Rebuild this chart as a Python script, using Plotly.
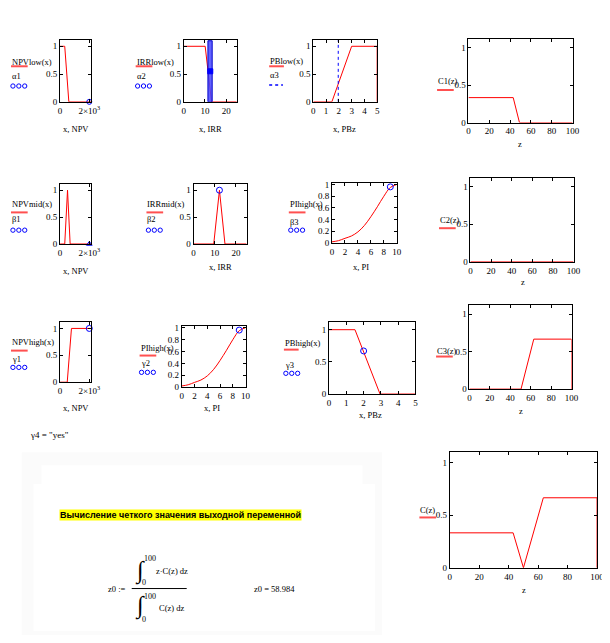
import plotly.graph_objects as go

# the page has an 8px body margin, so the figure sits at (8, 8) and fills the rest
W, H = 602, 627
OFF = 8

# membership function data
npv_low_x = [0, 320, 600, 2150]
npv_low_y = [1, 1, 0, 0]
npv_mid_x = [0, 320, 510, 690, 2150]
npv_mid_y = [0, 0, 1, 0, 0]
npv_high_x = [0, 490, 780, 2150, 2150]
npv_high_y = [0, 0, 1, 1, 0]

irr_low_x = [0, 10.1, 13.1, 25]
irr_low_y = [1, 1, 0, 0]
irr_mid_x = [0, 9.5, 12.2, 14.8, 25]
irr_mid_y = [0, 0, 1, 0, 0]
irr_band_x = [11.4, 13.4, 13.4, 11.4, 11.4]
irr_band_y = [0, 0, 1.1, 1.1, 0]

pb_low_x = [0, 1.45, 3, 5, 5]
pb_low_y = [0, 0, 1, 1, 0]
pb_high_x = [0, 1.5, 2.95, 5]
pb_high_y = [1, 1, 0, 0]

pi_x = [0, 1, 2, 3, 4, 5, 6, 7, 8, 9, 10]
pi_high_y = [0.02, 0.04, 0.08, 0.12, 0.19, 0.3, 0.45, 0.62, 0.8, 0.95, 1.0]

c1_x = [0, 43, 49, 100]
c1_y = [0.333, 0.333, 0, 0]
c2_x = [0, 100]
c2_y = [0, 0]
c3_x = [0, 50.5, 63, 100, 100]
c3_y = [0, 0, 0.667, 0.667, 0]
c_x = [0, 43, 50, 63.5, 100, 100]
c_y = [0.333, 0.333, 0, 0.667, 0.667, 0]

# blue points (alpha, beta, gamma values)
alpha1 = (2000, 0)
alpha2 = (12.5, 0.55)
alpha3 = 1.95
beta1 = (2000, 0)
beta2 = (12.2, 1)
beta3 = (9, 0.96)
gamma1 = (2000, 1)
gamma2 = (9, 0.96)
gamma3 = (2, 0.67)

npv_ticks = [0, 2000]
npv_text = ["0", "2×10<sup>3</sup>"]
irr_ticks = [0, 10, 20]
pb_ticks = [0, 1, 2, 3, 4, 5]
pi_ticks = [0, 2, 4, 6, 8, 10]
z_ticks = [0, 20, 40, 60, 80, 100]
mu_ticks = [0, 0.5, 1]
pi_mu_ticks = [0, 0.2, 0.4, 0.6, 0.8, 1]

SERIF = "Liberation Serif"
RED = "#ff0000"
BLUE = "#0000ff"
FS = 8.5

fig = go.Figure()
shapes = []
annotations = []


# page pixel -> paper coordinate
def px(x):
    return (x - OFF) / W


def py(y):
    return 1 - (y - OFF) / H


def rect(x0, y0, x1, y1, color):
    shapes.append(dict(type="rect", xref="paper", yref="paper", layer="below",
                       x0=px(x0), x1=px(x1), y0=py(y1), y1=py(y0),
                       fillcolor=color, line=dict(width=0)))


def add_panel(i, box, xr, yr, xt, yt, xtt=None):
    l, r, t, b = box
    s = "" if i == 1 else str(i)
    common = dict(ticks="inside", ticklen=3, tickcolor="black", mirror="ticks",
                  showline=True, linecolor="black", linewidth=1, showgrid=False,
                  zeroline=False, tickfont=dict(family=SERIF, size=9, color="black"),
                  fixedrange=True)
    xa = dict(domain=[px(l), min(px(r), 1)], range=xr, anchor="y" + s, tickvals=xt, **common)
    if xtt:
        xa["ticktext"] = xtt
    ya = dict(domain=[py(b), py(t)], range=yr, anchor="x" + s, tickvals=yt, **common)
    fig.update_layout({"xaxis" + s: xa, "yaxis" + s: ya})
    return "x" + s, "y" + s


def line(ax, x, y, shape="linear"):
    fig.add_trace(go.Scatter(x=x, y=y, xaxis=ax[0], yaxis=ax[1], mode="lines",
                             line=dict(color=RED, width=1, shape=shape),
                             showlegend=False, hoverinfo="skip"))


def point(ax, p, symbol="circle-open", size=6):
    fig.add_trace(go.Scatter(x=[p[0]], y=[p[1]], xaxis=ax[0], yaxis=ax[1], mode="markers",
                             marker=dict(color=BLUE, size=size, symbol=symbol,
                                         line=dict(color=BLUE, width=1)),
                             cliponaxis=False, showlegend=False, hoverinfo="skip"))


def text(x, y, s, size=FS, anchor="left", family=SERIF, **kw):
    annotations.append(dict(x=px(x), y=py(y), xref="paper", yref="paper", text=s,
                            showarrow=False, xanchor=anchor, yanchor="middle",
                            font=dict(family=family, size=size, color="black"), **kw))


def legend(x, y0, name, y1, sym=None, y2=None, y3=None, dotted=False, w=17):
    text(x - 1, y0, name)
    shapes.append(dict(type="line", xref="paper", yref="paper", x0=px(x), x1=px(x + w),
                       y0=py(y1), y1=py(y1), line=dict(color="#ff5050", width=2)))
    if sym is None:
        return
    text(x - 1, y2, sym)
    if dotted:
        shapes.append(dict(type="line", xref="paper", yref="paper", x0=px(x), x1=px(x + 14),
                           y0=py(y3), y1=py(y3), line=dict(color=BLUE, width=1.5, dash="dot")))
    else:
        for k in range(3):
            cx = x + 2 + 6 * k
            shapes.append(dict(type="circle", xref="paper", yref="paper",
                               x0=px(cx - 2.2), x1=px(cx + 2.2), y0=py(y3 - 2.2), y1=py(y3 + 2.2),
                               line=dict(color=BLUE, width=1)))


# very faint grey frame behind the calculation block
rect(20, 455, 387, 640, "#fbfbfb")
rect(40, 468, 367, 487, "white")
rect(32, 487, 380, 636, "white")

# row 1
a = add_panel(1, (59, 91, 37, 100), [0, 2150], [0, 1.12], npv_ticks, mu_ticks, npv_text)
line(a, npv_low_x, npv_low_y)
point(a, alpha1, size=5)
legend(9, 60, "NPVlow(x)", 64, "α1", 74, 84)
text(75, 128, "x, NPV", anchor="center")

a = add_panel(2, (185, 239, 37, 100), [0, 25], [0, 1.12], irr_ticks, mu_ticks)
line(a, irr_low_x, irr_low_y)
fig.add_trace(go.Scatter(x=irr_band_x, y=irr_band_y, xaxis=a[0], yaxis=a[1], mode="lines",
                         fill="toself", fillcolor="rgba(70,70,255,0.85)",
                         line=dict(color="#0000cc", width=1), showlegend=False, hoverinfo="skip"))
point(a, alpha2, symbol="square", size=5)
legend(136, 60, "IRRlow(x)", 64, "α2", 74, 84)
text(212, 128, "x, IRR", anchor="center")

a = add_panel(3, (317, 382, 37, 100), [0, 5], [0, 1.12], pb_ticks, mu_ticks)
line(a, pb_low_x, pb_low_y)
fig.add_trace(go.Scatter(x=[alpha3, alpha3], y=[0, 1.12], xaxis=a[0], yaxis=a[1], mode="lines",
                         line=dict(color=BLUE, width=1, dash="dot"), showlegend=False,
                         hoverinfo="skip"))
legend(272, 59, "PBlow(x)", 64, "α3", 73, 83, dotted=True, w=15)
text(349, 128, "x, PBz", anchor="center")

a = add_panel(4, (475, 581, 36, 121), [0, 100], [0, 1.12], z_ticks, mu_ticks)
line(a, c1_x, c1_y)
legend(443, 79, "C1(z)", 88)
text(528, 143, "z", anchor="center")

# row 2
a = add_panel(5, (59, 91, 183, 244), [0, 2150], [0, 1.12], npv_ticks, mu_ticks, npv_text)
line(a, npv_mid_x, npv_mid_y)
point(a, beta1, symbol="triangle-up-open", size=5)
legend(9, 203, "NPVmid(x)", 212, "β1", 219, 230)
text(75, 271, "x, NPV", anchor="center")

a = add_panel(6, (195, 249, 183, 244), [0, 25], [0, 1.12], irr_ticks, mu_ticks)
line(a, irr_mid_x, irr_mid_y)
point(a, beta2)
legend(147, 203, "IRRmid(x)", 212, "β2", 219, 230)
text(222, 267, "x, IRR", anchor="center")

a = add_panel(7, (336, 402, 182, 243), [0, 10], [0, 1.03], pi_ticks, pi_mu_ticks)
line(a, pi_x, pi_high_y, "spline")
point(a, beta3)
legend(292, 203, "PIhigh(x)", 212, "β3", 222, 230)
text(366, 267, "x, PI", anchor="center")

a = add_panel(8, (477, 582, 177, 262), [0, 100], [0, 1.12], z_ticks, mu_ticks)
line(a, c2_x, c2_y)
legend(445, 220, "C2(z)", 228)
text(531, 283, "z", anchor="center")

# row 3
a = add_panel(9, (59, 91, 323, 384), [0, 2150], [0, 1.12], npv_ticks, mu_ticks, npv_text)
line(a, npv_high_x, npv_high_y)
point(a, gamma1)
legend(9, 343, "NPVhigh(x)", 352, "γ1", 361, 369)
text(75, 410, "x, NPV", anchor="center")

a = add_panel(10, (183, 248, 327, 389), [0, 10], [0, 1.03], pi_ticks, pi_mu_ticks)
line(a, pi_x, pi_high_y, "spline")
point(a, gamma2)
legend(140, 349, "PIhigh(x)", 357, "γ2", 365, 374)
text(214, 410, "x, PI", anchor="center")

a = add_panel(11, (333, 421, 323, 396), [0, 5], [0, 1.12], pb_ticks, mu_ticks)
line(a, pb_high_x, pb_high_y)
point(a, gamma3)
legend(287, 344, "PBhigh(x)", 351, "γ3", 367, 375, w=15)
text(375, 417, "x, PBz", anchor="center")

a = add_panel(12, (476, 580, 306, 391), [0, 100], [0, 1.12], z_ticks, mu_ticks)
line(a, c3_x, c3_y)
legend(442, 352, "C3(z)", 358)
text(529, 413, "z", anchor="center")

text(26, 437, "γ4 = \"yes\"", size=9)

# bottom: aggregated output
a = add_panel(13, (456, 606, 455, 572), [0, 100], [0, 1.1], z_ticks, mu_ticks)
line(a, c_x, c_y)
legend(425, 513, "C(z)", 521)
text(532, 594, "z", anchor="center")

text(58, 519, "<b>Вычисление четкого значения выходной переменной</b>", size=9,
     family="Liberation Sans", bgcolor="#ffff00", borderpad=0)

# formula for z0
text(128, 593, "z0 :=", size=FS, anchor="right")
shapes.append(dict(type="line", xref="paper", yref="paper", x0=px(132), x1=px(188),
                   y0=py(593), y1=py(593), line=dict(color="black", width=1)))
text(133, 575, "∫", size=24)
text(142, 563, "100", size=8)
text(140, 587, "0", size=8)
text(155, 575, "z·C(z) dz", size=FS)
text(133, 611, "∫", size=24)
text(142, 601, "100", size=8)
text(140, 624, "0", size=8)
text(158, 613, "C(z) dz", size=FS)
text(255, 593, "z0 = 58.984", size=FS)

fig.update_layout(width=W, height=H, margin=dict(l=0, r=0, t=0, b=0),
                  paper_bgcolor="white", plot_bgcolor="white", showlegend=False,
                  shapes=shapes, annotations=annotations)

fig.write_html("out.html", config={"displayModeBar": False})
